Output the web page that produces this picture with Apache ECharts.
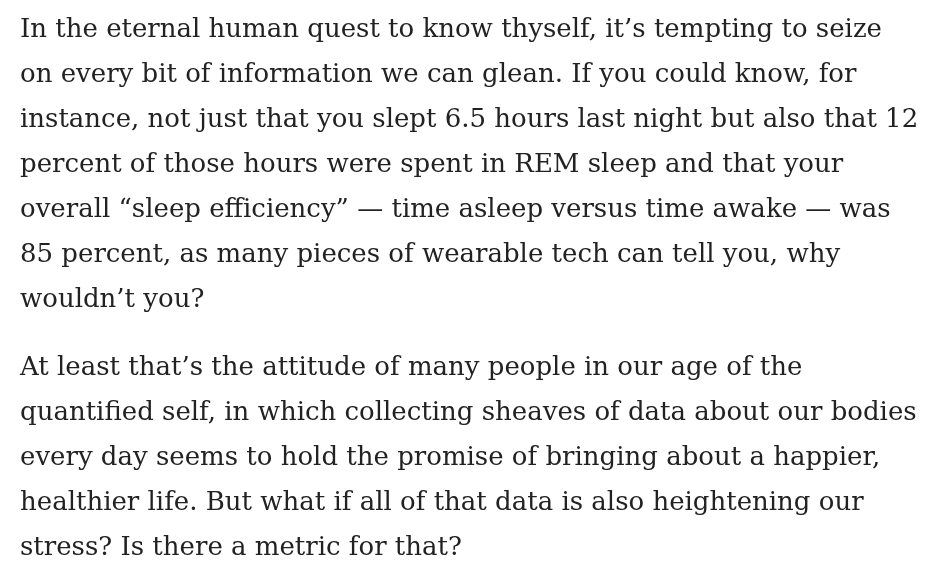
<!DOCTYPE html>
<html><head><meta charset="utf-8">
<script src="https://cdn.jsdelivr.net/npm/echarts@6/dist/echarts.min.js"></script>
<style>html,body{margin:0;padding:0;background:#fff}#c{width:942px;height:571px}</style>
</head><body><div id="c"></div>
<script>
const paragraph1 = [
"In the eternal human quest to know thyself, it\u2019s tempting to seize",
"on every bit of information we can glean. If you could know, for",
"instance, not just that you slept 6.5 hours last night but also that 12",
"percent of those hours were spent in REM sleep and that your",
"overall \u201csleep efficiency\u201d \u2014 time asleep versus time awake \u2014 was",
"85 percent, as many pieces of wearable tech can tell you, why",
"wouldn\u2019t you?"
];
const paragraph2 = [
"At least that\u2019s the attitude of many people in our age of the",
"quantified self, in which collecting sheaves of data about our bodies",
"every day seems to hold the promise of bringing about a happier,",
"healthier life. But what if all of that data is also heightening our",
"stress? Is there a metric for that?"
];
const chart = echarts.init(document.getElementById('c'));
const els = [];
const style = {fill:'#222', font:'26px "DejaVu Serif"', textVerticalAlign:'middle'};
paragraph1.forEach((t,i)=>els.push({type:'text', left:20, top:17+i*45, style:Object.assign({text:t},style)}));
paragraph2.forEach((t,i)=>els.push({type:'text', left:20, top:355+i*45, style:Object.assign({text:t},style)}));
chart.setOption({backgroundColor:'#fff', graphic:els});
</script></body></html>
